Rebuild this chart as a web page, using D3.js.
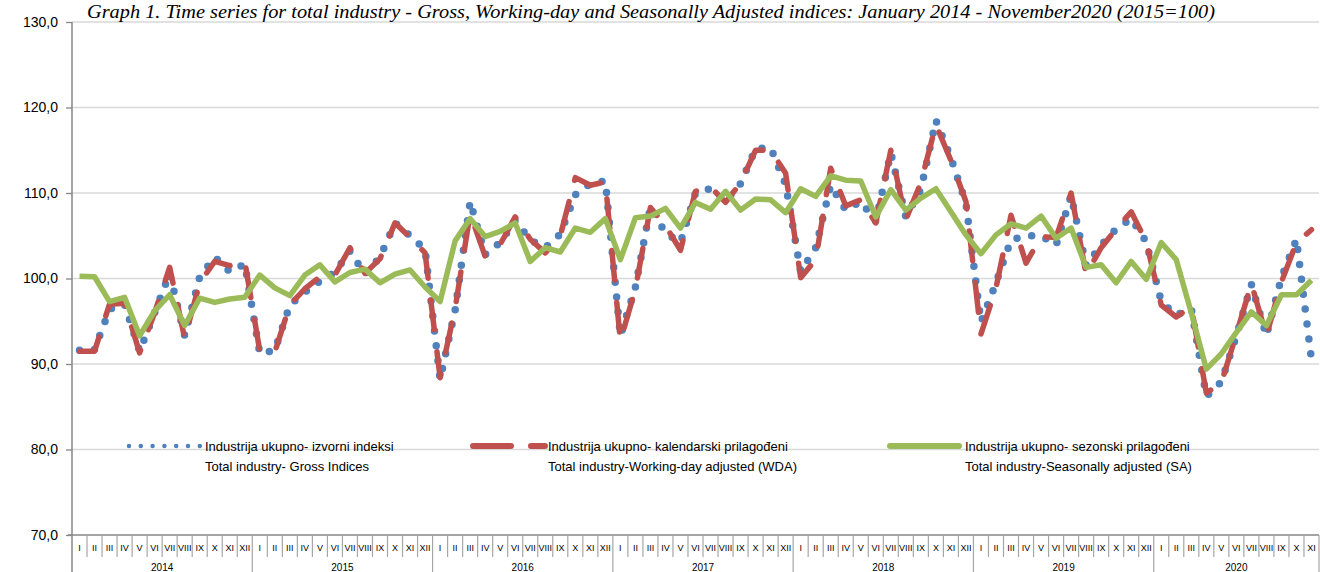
<!DOCTYPE html>
<html>
<head>
<meta charset="utf-8">
<script src="https://cdn.jsdelivr.net/npm/d3@7"></script>
<style>
  body { margin: 0; background: #fff; }
  svg { display: block; }
  .mono { font-family: "Liberation Sans", Arial, sans-serif; fill: #000; }
</style>
</head>
<body>
<div id="chart"></div>
<script>
const months = ["I", "II", "III", "IV", "V", "VI", "VII", "VIII", "IX", "X", "XI", "XII"];
const years = ["2014", "2015", "2016", "2017", "2018", "2019", "2020"];
const yTicks = [70, 80, 90, 100, 110, 120, 130];

// Industrija ukupno - izvorni indeksi (gross)
const gross = [
  91.6, 91.7, 96.4, 97.0, 91.5, 96.0, 100.6, 93.3, 100.2, 102.5, 100.8, 101.7,
  91.2, 91.6, 96.9, 98.4, 99.7, 100.7, 103.2, 100.5, 102.5, 106.5, 105.0, 103.4,
  88.2, 96.3, 109.0, 102.8, 104.2, 106.8, 104.5, 103.6, 105.2, 109.8, 111.1, 111.4,
  93.3, 99.0, 108.4, 105.3, 104.2, 110.0, 110.5, 109.0, 111.1, 115.2, 115.3, 111.0,
  100.8, 103.6, 110.9, 108.0, 109.0, 106.7, 114.7, 107.2, 110.4, 118.5, 114.1, 108.8,
  94.9, 99.5, 104.5, 105.0, 105.0, 103.9, 109.7, 101.5, 103.9, 105.8, 107.0, 104.3,
  97.3, 95.7, 96.5, 86.2, 87.9, 93.3, 99.3, 93.3, 100.1, 104.6, 90.5
];
// kalendarski prilagodeni (working-day adjusted)
const wda = [
  91.5, 91.5, 97.0, 97.1, 91.3, 96.0, 101.3, 93.0, 99.5, 102.0, 101.5, 102.0,
  91.5, 91.4, 96.9, 98.8, 100.2, 100.4, 103.6, 100.6, 102.3, 106.5, 104.8, 103.0,
  88.4, 96.5, 107.6, 102.6, 104.0, 107.2, 104.6, 103.0, 105.0, 111.8, 110.9, 111.3,
  92.7, 98.8, 108.3, 106.2, 103.3, 110.2, 110.7, 108.9, 111.2, 115.0, 115.0, 112.3,
  100.1, 102.2, 112.9, 108.5, 109.2, 106.5, 115.0, 106.9, 111.2, 118.0, 113.8, 109.0,
  93.5, 98.9, 107.4, 101.8, 104.9, 104.8, 110.0, 100.5, 103.6, 105.8, 107.8, 104.3,
  96.9, 95.5, 96.7, 86.6, 87.8, 93.5, 99.4, 93.3, 99.6, 104.2, 105.7
];
// sezonski prilagodeni (seasonally adjusted)
const sa = [
  100.25, 100.2, 97.3, 97.8, 93.3, 96.2, 98.1, 94.5, 97.7, 97.2, 97.6, 97.8,
  100.4, 98.9, 98.0, 100.4, 101.6, 99.6, 100.7, 101.1, 99.5, 100.5, 101.0, 99.0,
  97.3, 104.4, 107.0, 104.9, 105.5, 106.5, 102.0, 103.6, 103.1, 105.9, 105.4, 107.0,
  102.2, 107.1, 107.3, 108.2, 105.9, 108.9, 108.1, 110.2, 108.0, 109.3, 109.2, 107.7,
  110.5, 109.6, 112.0, 111.5, 111.4, 107.2, 110.4, 108.0, 109.4, 110.5, 107.8, 105.1,
  102.9, 105.1, 106.4, 105.9, 107.3, 104.7, 105.9, 101.3, 101.6, 99.5, 102.0, 99.9,
  104.2, 102.2, 96.0, 89.4, 91.2, 93.7, 96.1, 94.5, 98.1, 98.1, 99.8
];

const legendLabels = [
  ["Industrija ukupno- izvorni indeksi", "Total industry- Gross Indices"],
  ["Industrija ukupno- kalendarski prilagođeni", "Total industry-Working-day adjusted (WDA)"],
  ["Industrija ukupno- sezonski prilagođeni", "Total industry-Seasonally adjusted (SA)"]
];

const width = 1320, height = 572;
const plot = { left: 72, right: 1319, top: 22, bottom: 535 };

const svg = d3.select("#chart").append("svg")
  .attr("width", width)
  .attr("height", height);

const idx = d3.range(gross.length);
const x = d3.scaleBand().domain(idx).range([plot.left, plot.right]).padding(0);
const y = d3.scaleLinear().domain([70, 130]).range([plot.bottom, plot.top]);
const cx = i => x(i) + x.bandwidth() / 2;
const edge = i => i < gross.length ? x(i) : plot.right;

// gridlines
svg.append("g").selectAll("line")
  .data(yTicks.filter(d => d > 70))
  .enter().append("line")
  .attr("x1", plot.left).attr("x2", plot.right)
  .attr("y1", d => y(d)).attr("y2", d => y(d))
  .attr("stroke", "#d9d9d9").attr("stroke-width", 1.3);

// y axis
const yAxis = svg.append("g")
  .attr("transform", `translate(${plot.left},0)`)
  .call(d3.axisLeft(y).tickValues(yTicks).tickSize(6).tickPadding(8)
    .tickFormat(d => d.toFixed(1).replace(".", ",")));
yAxis.select(".domain").remove();
yAxis.selectAll(".tick line").attr("stroke", "#868686").attr("stroke-width", 1.3);
yAxis.selectAll(".tick text")
  .attr("fill", "#000")
  .style("font-family", "'Liberation Sans', Arial, sans-serif")
  .style("font-size", "14px");

svg.append("line")
  .attr("x1", plot.left).attr("x2", plot.left).attr("y1", plot.top).attr("y2", height)
  .attr("stroke", "#868686").attr("stroke-width", 1.5);
svg.append("line")
  .attr("x1", plot.left - 4).attr("x2", plot.right).attr("y1", plot.bottom).attr("y2", plot.bottom)
  .attr("stroke", "#868686").attr("stroke-width", 1.5);

// month cells
svg.append("g").selectAll("line")
  .data(d3.range(1, gross.length + 1))
  .enter().append("line")
  .attr("x1", d => edge(d))
  .attr("x2", d => edge(d))
  .attr("y1", plot.bottom)
  .attr("y2", d => d % 12 === 0 || d === gross.length ? height : 557)
  .attr("stroke", "#a6a6a6").attr("stroke-width", 1.2);

svg.append("g").selectAll("text")
  .data(idx)
  .enter().append("text")
  .attr("class", "mono")
  .attr("x", d => cx(d))
  .attr("y", 551)
  .attr("text-anchor", "middle")
  .style("font-size", "9px")
  .text(d => months[d % 12]);

svg.append("g").selectAll("text")
  .data(years)
  .enter().append("text")
  .attr("class", "mono")
  .attr("x", (d, i) => (edge(i * 12) + edge(Math.min(i * 12 + 12, gross.length))) / 2)
  .attr("y", 571)
  .attr("text-anchor", "middle")
  .style("font-size", "10px")
  .text(d => d);

// series
const line = d3.line().x((d, i) => cx(i)).y(d => y(d));

svg.append("path").datum(gross)
  .attr("d", line)
  .attr("fill", "none")
  .attr("stroke", "#4f81bd")
  .attr("stroke-width", 7.5)
  .attr("stroke-linecap", "round")
  .attr("stroke-dasharray", "0 15");

svg.append("path").datum(wda)
  .attr("d", line)
  .attr("fill", "none")
  .attr("stroke", "#c0504d")
  .attr("stroke-width", 5.5)
  .attr("stroke-linecap", "round")
  .attr("stroke-linejoin", "round")
  .attr("stroke-dasharray", "30 22");

svg.append("path").datum(sa)
  .attr("d", line)
  .attr("fill", "none")
  .attr("stroke", "#9bbb59")
  .attr("stroke-width", 5.5)
  .attr("stroke-linejoin", "round");

// title
svg.append("text")
  .attr("x", 87)
  .attr("y", 18)
  .attr("textLength", 1128)
  .attr("lengthAdjust", "spacingAndGlyphs")
  .style("font-family", "'Liberation Serif', 'DejaVu Serif', serif")
  .style("font-style", "italic")
  .style("font-size", "18px")
  .text("Graph 1. Time series for total industry - Gross, Working-day and Seasonally Adjusted indices: January 2014 - November2020 (2015=100)");

// legend
const legendItems = [
  { x1: 129, x2: 200, tx: 205, color: "#4f81bd", w: 4.5, dash: "0 11.8" },
  { x1: 473, x2: 545, tx: 548, color: "#c0504d", w: 6, dash: "38 20" },
  { x1: 890, x2: 959, tx: 965, color: "#9bbb59", w: 6, dash: null }
];
const lg = svg.append("g").selectAll("g")
  .data(legendItems)
  .enter().append("g");
lg.append("line")
  .attr("x1", d => d.x1).attr("x2", d => d.x2)
  .attr("y1", 446).attr("y2", 446)
  .attr("stroke", d => d.color)
  .attr("stroke-width", d => d.w)
  .attr("stroke-linecap", "round")
  .attr("stroke-dasharray", d => d.dash);
lg.append("text")
  .attr("class", "mono")
  .attr("x", d => d.tx).attr("y", 451)
  .style("font-size", "13px")
  .text((d, i) => legendLabels[i][0]);
lg.append("text")
  .attr("class", "mono")
  .attr("x", d => d.tx).attr("y", 471)
  .style("font-size", "13px")
  .text((d, i) => legendLabels[i][1]);
</script>
</body>
</html>
